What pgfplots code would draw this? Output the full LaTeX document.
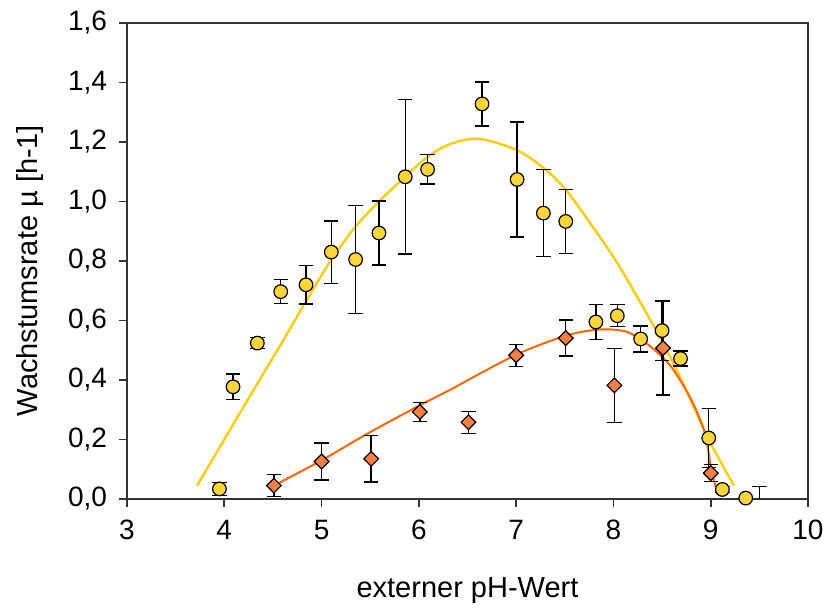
\documentclass[border=0pt]{standalone}
\usepackage{pgfplots}
\pgfplotsset{compat=1.18}
\usepackage{fontspec}
\setmainfont{Liberation Sans}
\definecolor{ycurve}{RGB}{255,204,0}
\definecolor{ymark}{RGB}{255,214,51}
\definecolor{ocurve}{RGB}{255,102,0}
\definecolor{omark}{RGB}{255,128,64}
\begin{document}
\begin{tikzpicture}
\begin{axis}[
  scale only axis,
  width=340.5pt, height=238pt,
  xmin=3, xmax=10, ymin=0, ymax=1.6,
  xtick={3,4,...,10},
  ytick={0,0.2,...,1.6},
  tick pos=left,
  tick align=outside,
  major tick length=4pt,
  axis line style={line width=1pt, draw=black!80},
  tick style={line width=0.8pt, draw=black!80},
  /pgf/number format/assume math mode=true,
  yticklabel style={/pgf/number format/.cd, fixed, fixed zerofill, precision=1, use comma, /tikz/.cd, font=\fontsize{14}{16}\selectfont, xshift=-2.5pt},
  xticklabel style={font=\fontsize{14}{16}\selectfont, yshift=-3pt},
  xlabel={externer pH-Wert},
  ylabel={Wachstumsrate µ [h-1]},
  xlabel style={font=\fontsize{14.5}{17}\selectfont, at={(axis description cs:0.5,0)}, anchor=base, yshift=-49.5pt},
  ylabel style={font=\fontsize{14.5}{17}\selectfont, at={(axis description cs:0,0.48)}, anchor=base, yshift=44.5pt},
  error bars/error bar style={line width=0.7pt, draw=black},
  error bars/error mark options={rotate=90, mark size=3.6pt, line width=0.7pt, draw=black},
]
% fitted curves
\addplot[ycurve, line width=1.2pt, smooth, tension=0.5] coordinates {
(3.72,0.045) (4.0,0.20) (4.34,0.388) (4.6,0.53) (4.85,0.67) (5.10,0.804) (5.35,0.916) (5.59,1.0) (5.86,1.084) (6.09,1.150) (6.32,1.193) (6.61,1.211) (7.0,1.174) (7.28,1.113) (7.51,1.040) (7.82,0.900) (8.04,0.793) (8.28,0.659) (8.50,0.530) (8.73,0.379) (8.98,0.199) (9.24,0.045)
};
\addplot[ocurve, line width=1pt, smooth, tension=0.5] coordinates {
(4.51,0.045) (5.0,0.13) (5.5,0.225) (6.01,0.315) (6.32,0.367) (7.0,0.485) (7.51,0.549) (7.82,0.569) (8.01,0.569) (8.17,0.558) (8.38,0.513) (8.59,0.446) (8.80,0.334) (8.94,0.222) (9.0,0.11) (9.05,0.042)
};
% hidden point error bar
\addplot[draw=none, mark=none, error bars/.cd, y dir=plus, y explicit] coordinates {
(9.50,0) +- (0,0.042)
};
% diamonds
\addplot[only marks, mark=square*, mark size=2.6pt, mark options={rotate=45, fill=omark, draw=black, line width=0.6pt},
  error bars/.cd, y dir=both, y explicit] coordinates {
(4.51,0.045) +- (0,0.037)
(5.00,0.126) +- (0,0.062)
(5.51,0.135) +- (0,0.078)
(6.01,0.293) +- (0,0.032)
(6.51,0.258) +- (0,0.037)
(7.00,0.483) +- (0,0.037)
(7.51,0.541) +- (0,0.060)
(8.01,0.382) +- (0,0.124)
(8.51,0.507) +- (0,0.158)
(9.00,0.087) +- (0,0.028)
};
% circles
\addplot[only marks, mark=*, mark size=3.4pt, mark options={fill=ymark, draw=black, line width=0.6pt},
  error bars/.cd, y dir=both, y explicit] coordinates {
(3.95,0.034) +- (0,0.022)
(4.09,0.377) +- (0,0.043)
(4.34,0.524) +- (0,0.019)
(4.58,0.697) +- (0,0.040)
(4.84,0.720) +- (0,0.065)
(5.10,0.830) +- (0,0.105)
(5.35,0.805) +- (0,0.182)
(5.59,0.894) +- (0,0.108)
(5.86,1.083) +- (0,0.259)
(6.09,1.108) +- (0,0.049)
(6.65,1.328) +- (0,0.074)
(7.01,1.074) +- (0,0.193)
(7.28,0.961) +- (0,0.146)
(7.51,0.933) +- (0,0.107)
(7.82,0.595) +- (0,0.058)
(8.04,0.616) +- (0,0.037)
(8.28,0.538) +- (0,0.044)
(8.50,0.566) +- (0,0.100)
(8.69,0.472) +- (0,0.025)
(8.98,0.205) +- (0,0.100)
(9.12,0.032) +- (0,0.010)
(9.36,0.003) +- (0,0.000)
};
\end{axis}
\pgfresetboundingbox
\useasboundingbox (current axis.south west) ++(-63.5pt,-55.5pt) rectangle ++(413pt,305pt);
\end{tikzpicture}
\end{document}
